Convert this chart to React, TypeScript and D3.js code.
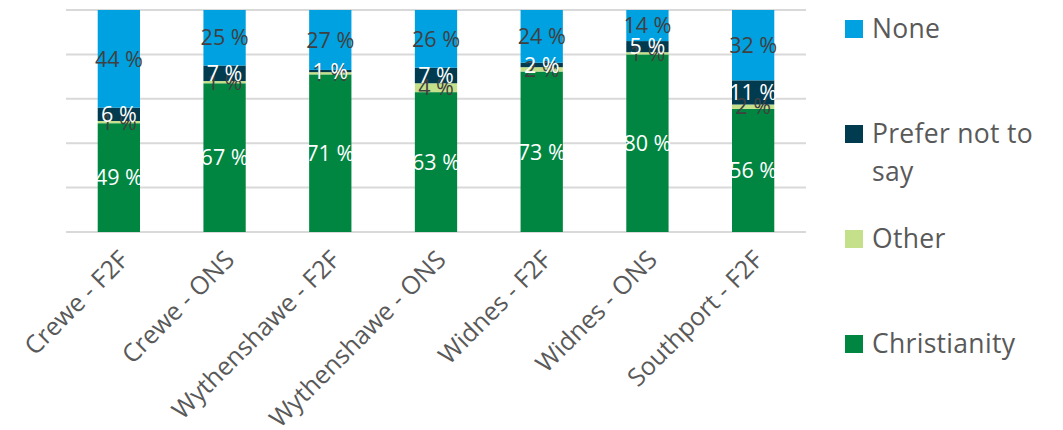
import React from "react";
import * as d3 from "d3";

const categories = [
  "Crewe - F2F",
  "Crewe - ONS",
  "Wythenshawe - F2F",
  "Wythenshawe - ONS",
  "Widnes - F2F",
  "Widnes - ONS",
  "Southport - F2F",
];
const christianity = [49, 67, 71, 63, 73, 80, 56];
const other = [1, 1, 1, 4, 2, 1, 2];
const preferNot = [6, 7, 1, 7, 2, 5, 11];
const none = [44, 25, 27, 26, 24, 14, 32];
const gridTicks = [0, 0.2, 0.4, 0.6, 0.8, 1];

const seriesKeys = ["Christianity", "Other", "Prefer not to say", "None"];
const seriesValues: Record<string, number[]> = {
  Christianity: christianity,
  Other: other,
  "Prefer not to say": preferNot,
  None: none,
};
const colors: Record<string, string> = {
  Christianity: "#008641",
  Other: "#C5E08A",
  "Prefer not to say": "#003B50",
  None: "#00A1E0",
};
const labelColors: Record<string, string> = {
  Christianity: "#FFFFFF",
  Other: "#404040",
  "Prefer not to say": "#FFFFFF",
  None: "#404040",
};

const FONT = "'Open Sans', sans-serif";

export default function App() {
  const W = 1063;
  const H = 430;
  const plot = { left: 66, right: 806, top: 10, bottom: 232 };

  const table = categories.map((c, i) => {
    const row: any = { category: c };
    seriesKeys.forEach((k) => (row[k] = seriesValues[k][i]));
    return row;
  });
  const stacked = d3
    .stack<any>()
    .keys(seriesKeys)
    .offset(d3.stackOffsetExpand)(table);

  const x = d3
    .scaleBand<string>()
    .domain(categories)
    .range([plot.left, plot.right])
    .paddingInner(0.6)
    .paddingOuter(0.3);
  const y = d3.scaleLinear().domain([0, 1]).range([plot.bottom, plot.top]);

  const legendItems = [
    { key: "None", lines: ["None"], base: 38 },
    { key: "Prefer not to say", lines: ["Prefer not to", "say"], base: 143 },
    { key: "Other", lines: ["Other"], base: 248 },
    { key: "Christianity", lines: ["Christianity"], base: 353 },
  ];

  return (
    <svg
      width={W}
      height={H}
      style={{ position: "absolute", left: 0, top: 0, background: "#fff" }}
      fontFamily={FONT}
    >
      {gridTicks.map((t) => (
        <line
          key={t}
          x1={plot.left}
          x2={plot.right}
          y1={y(t)}
          y2={y(t)}
          stroke="#D9D9D9"
          strokeWidth={2}
        />
      ))}
      {stacked.map((s) => (
        <g key={s.key}>
          {s.map((d, i) => (
            <rect
              key={i}
              x={x(categories[i])}
              width={x.bandwidth()}
              y={y(d[1])}
              height={y(d[0]) - y(d[1])}
              fill={colors[s.key]}
            />
          ))}
        </g>
      ))}
      {stacked.map((s) => (
        <g key={s.key + "-l"}>
          {s.map((d, i) => (
            <text
              key={i}
              x={(x(categories[i]) as number) + x.bandwidth() / 2}
              y={(y(d[0]) + y(d[1])) / 2}
              dy="0.36em"
              textAnchor="middle"
              fontSize={21.5}
              fill={labelColors[s.key]}
            >
              {`${seriesValues[s.key][i]} %`}
            </text>
          ))}
        </g>
      ))}
      {categories.map((c) => {
        const cx = (x(c) as number) + x.bandwidth() / 2 + 5;
        const cy = 255;
        return (
          <text
            key={c}
            transform={`translate(${cx},${cy}) rotate(-45)`}
            textAnchor="end"
            dy="0.36em"
            fontSize={25}
            fill="#595959"
          >
            {c}
          </text>
        );
      })}
      {legendItems.map((it) => (
        <g key={it.key}>
          <rect x={845} y={it.base - 18} width={18} height={18} fill={colors[it.key]} />
          {it.lines.map((ln, j) => (
            <text
              key={j}
              x={872}
              y={it.base + j * 37.5}
              fontSize={26.5}
              letterSpacing={0.3}
              fill="#595959"
            >
              {ln}
            </text>
          ))}
        </g>
      ))}
    </svg>
  );
}
